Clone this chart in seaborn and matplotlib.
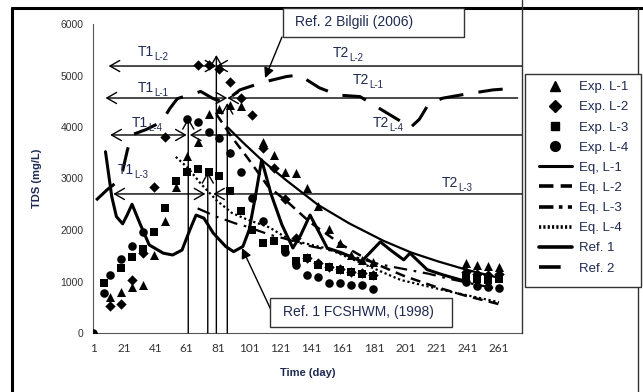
import numpy as np
import pandas as pd
import matplotlib
matplotlib.use("Agg")
import matplotlib.pyplot as plt
import seaborn as sns
from matplotlib.lines import Line2D
from matplotlib.patches import Rectangle

sns.set_style("white")
plt.rcParams['font.family'] = ['Liberation Sans', 'DejaVu Sans']

NAVY = '#1f2a52'

# experimental points (day, TDS mg/L)
day_l1 = [12, 19, 26, 33, 40, 47, 54, 61, 68, 75, 82, 89, 96, 110, 117, 124, 131, 138, 145, 152, 159, 166, 173, 180, 240, 247, 254, 261]
tds_l1 = [690, 800, 900, 930, 1515, 2175, 2830, 3440, 3715, 4250, 4350, 4430, 4400, 3700, 3450, 3120, 3110, 2820, 2470, 2020, 1750, 1515, 1420, 1385, 1360, 1320, 1300, 1280]

day_l2 = [12, 19, 26, 33, 40, 47, 68, 75, 82, 89, 96, 103, 110, 117, 124, 131, 138, 145, 152, 159, 166, 173, 180, 240, 247, 254, 261]
tds_l2 = [520, 560, 1030, 1560, 2840, 3810, 5200, 5200, 5120, 4880, 4560, 4230, 3600, 3200, 2600, 1840, 1450, 1350, 1290, 1240, 1190, 1160, 1120, 1180, 1150, 1130, 1150]

day_l3 = [8, 19, 26, 33, 40, 47, 54, 61, 68, 75, 82, 89, 96, 103, 110, 117, 124, 131, 138, 145, 152, 159, 166, 173, 180, 240, 247, 254, 261]
tds_l3 = [980, 1260, 1480, 1640, 1970, 2420, 2960, 3130, 3180, 3130, 3040, 2760, 2360, 2000, 1740, 1790, 1640, 1400, 1450, 1330, 1290, 1220, 1180, 1150, 1100, 1090, 1040, 1020, 1050]

day_l4 = [1, 8, 12, 19, 26, 33, 61, 68, 75, 82, 89, 96, 103, 110, 124, 131, 138, 145, 152, 159, 166, 173, 180, 240, 247, 254, 261]
tds_l4 = [0, 780, 1130, 1440, 1680, 1970, 4150, 4090, 3900, 3780, 3490, 3130, 2630, 2180, 1580, 1320, 1130, 1090, 980, 980, 940, 940, 850, 1000, 920, 900, 880]

# model / reference curves
eq1_day = [87, 97, 109, 125, 145, 165, 187, 205, 222, 240, 261]
eq1_tds = [4000, 3700, 3360, 2960, 2490, 2130, 1790, 1560, 1390, 1230, 1070]

eq2_day = [80, 90, 100, 113, 125, 140, 160, 180, 200, 220, 240, 261]
eq2_tds = [4250, 3800, 3400, 2850, 2560, 2150, 1720, 1370, 1110, 900, 720, 560]

eq3_day = [68, 80, 92, 99, 115, 123, 141, 151, 168, 185, 204, 216, 228, 245, 261]
eq3_tds = [2420, 2260, 2130, 2070, 1900, 1840, 1680, 1620, 1480, 1330, 1220, 1150, 1060, 950, 850]

eq4_day = [54, 62, 70, 80, 90, 100, 114, 127, 151, 175, 198, 230, 261]
eq4_tds = [3420, 3200, 2900, 2580, 2330, 2200, 2050, 1810, 1640, 1330, 1030, 800, 600]

ref1_day = [9, 13, 16, 20, 23, 26, 31, 37, 46, 52, 58, 63, 67, 72, 78, 86, 91, 97, 101, 105, 109, 115, 122, 129, 134, 140, 145, 151, 160, 173, 185, 192, 200, 204, 215, 225, 240]
ref1_tds = [3520, 2650, 2260, 2120, 2300, 2500, 2130, 1710, 1550, 1515, 1610, 2000, 2290, 2230, 1940, 1680, 1580, 1680, 2000, 2650, 3360, 2700, 2100, 1650, 1900, 2290, 2000, 1650, 1560, 1390, 1770, 1600, 1420, 1550, 1230, 1130, 1000]

ref2_day = [3, 10, 15, 20, 23, 26, 35, 45, 50, 55, 62, 70, 78, 85, 95, 110, 125, 133, 146, 158, 172, 185, 197, 204, 210, 216, 225, 240, 257, 270]
ref2_tds = [2580, 2780, 2900, 3150, 3550, 3850, 3950, 4100, 4350, 4550, 4620, 4690, 4550, 4480, 4720, 4870, 4980, 5010, 4760, 4620, 4590, 4350, 4130, 3980, 4150, 4450, 4560, 4640, 4720, 4750]

W, H = 643, 392
fig = plt.figure(figsize=(W / 100, H / 100), dpi=100)


def fx(px):
    return px / W


def fy(py):
    return 1 - py / H


ax = fig.add_axes([fx(93), fy(333), fx(522) - fx(93), fy(24) - fy(333)])
ax.set_facecolor('white')

# experimental markers
exp_sets = [(day_l1, tds_l1, '^', 42), (day_l2, tds_l2, 'D', 28),
            (day_l3, tds_l3, 's', 30), (day_l4, tds_l4, 'o', 38)]
for d, t, m, s in exp_sets:
    sns.scatterplot(x=d, y=t, marker=m, s=s, color='black', edgecolor='black', linewidth=0, ax=ax, zorder=4)

# lines
line_sets = [
    (eq1_day, eq1_tds, '-', 1.6),
    (eq2_day, eq2_tds, (0, (4, 2.5)), 1.8),
    (eq3_day, eq3_tds, (0, (6, 3, 1.2, 3)), 1.6),
    (eq4_day, eq4_tds, (0, (1, 1.2)), 1.6),
    (ref1_day, ref1_tds, '-', 2.2),
    (ref2_day, ref2_tds, (0, (8, 5)), 2.2),
]
for d, t, ls, lw in line_sets:
    df = pd.DataFrame({'day': d, 'tds': t})
    sns.lineplot(data=df, x='day', y='tds', color='black', linestyle=ls, lw=lw,
                 estimator=None, errorbar=None, ax=ax, zorder=3)

x_max = 1 + (522 - 93) / 1.5615
ax.set_xlim(1, x_max)
ax.set_ylim(0, 6000)
ax.set_xticks(range(1, 262, 20))
ax.set_yticks(range(0, 6001, 1000))
ax.tick_params(axis='x', labelsize=8.5, length=3, width=0.8, colors='#555555', labelcolor='#333333', pad=4)
ax.tick_params(axis='y', labelsize=7.5, length=4, width=0.8, colors='#555555', labelcolor='#333333', pad=3)
for lab in ax.get_xticklabels():
    lab.set_family(['Lato', 'DejaVu Sans'])
ax.spines['top'].set_visible(False)
ax.spines['right'].set_visible(False)
ax.spines['left'].set_color('#555555')
ax.spines['bottom'].set_color('#555555')
ax.spines['left'].set_linewidth(0.8)
ax.spines['bottom'].set_linewidth(0.8)
ax.set_xlabel('Time (day)', fontsize=8, fontweight='bold', color=NAVY, labelpad=10)
ax.set_ylabel('TDS (mg/L)', fontsize=8, fontweight='bold', color=NAVY, labelpad=13)

# horizontal T arrows
arr = dict(color='black', lw=1.0, shrinkA=0, shrinkB=0, mutation_scale=10)
dbl = 'head_length=0.7,head_width=0.4'
t_lines = [
    (5184, 11, 80, 80, x_max),
    (4563, 9, 87, 87, 273),
    (3845, 12, 61, 63, x_max),
    (2700, 14, 73, 78, x_max),
]
for y, a0, a1, b0, b1 in t_lines:
    ax.annotate('', xy=(a0, y), xytext=(a1, y), arrowprops=dict(arrowstyle='<->,' + dbl, **arr))
    ax.annotate('', xy=(b0, y), xytext=(b1, y), arrowprops=dict(arrowstyle='->,' + dbl, **arr))

# vertical markers for T1 times
for xv, top in [(62, 4175), (74.5, 3126), (80, 5398), (87, 4466)]:
    ax.annotate('', xy=(xv, top), xytext=(xv, 0), arrowprops=dict(arrowstyle='->,' + dbl, **arr))

tlabels = [
    ('T1', 'L-2', 29.8, 5456), ('T1', 'L-1', 29.8, 4757),
    ('T1', 'L-4', 26, 4078), ('T1', 'L-3', 17, 3165),
    ('T2', 'L-2', 154.7, 5437), ('T2', 'L-1', 167.5, 4913),
    ('T2', 'L-4', 180.3, 4078), ('T2', 'L-3', 224.5, 2913),
]
for main, sub, x, y in tlabels:
    t = ax.text(x, y, main, fontsize=10, color=NAVY, ha='left', va='center', zorder=5)
    ax.annotate(sub, xy=(1.0, 0.12), xycoords=t, fontsize=7, color=NAVY,
                ha='left', va='center', zorder=5)

# reference call-out boxes
fig.add_artist(Rectangle((fx(283), fy(37)), fx(464) - fx(283), fy(8) - fy(37),
                         transform=fig.transFigure, fill=True, facecolor='white', edgecolor='#333333', lw=1, zorder=6))
fig.text(fx(295), fy(22), 'Ref. 2 Bilgili (2006)', fontsize=10, color=NAVY, va='center', ha='left', zorder=7)
fig.add_artist(Rectangle((fx(270), fy(327)), fx(452) - fx(270), fy(298) - fy(327),
                         transform=fig.transFigure, fill=True, facecolor='white', edgecolor='#333333', lw=1, zorder=6))
fig.text(fx(283), fy(312), 'Ref. 1 FCSHWM, (1998)', fontsize=10, color=NAVY, va='center', ha='left', zorder=7)

head = dict(arrowstyle='-|>,head_length=0.6,head_width=0.3', color='black', lw=1.0, shrinkA=0, shrinkB=0, mutation_scale=10)
ax.annotate('', xy=(111.2, 4951), xytext=(282, H - 37), textcoords='figure pixels', arrowprops=head)
ax.annotate('', xy=(96.4, 1650), xytext=(272, H - 312), textcoords='figure pixels', arrowprops=head)

# legend (frame drawn separately to match the box size)
handles = [
    Line2D([], [], marker='^', ls='none', color='k', ms=7),
    Line2D([], [], marker='D', ls='none', color='k', ms=6),
    Line2D([], [], marker='s', ls='none', color='k', ms=6),
    Line2D([], [], marker='o', ls='none', color='k', ms=7),
    Line2D([], [], color='k', lw=2.2, ls='-'),
    Line2D([], [], color='k', lw=2.6, ls=(0, (4, 2))),
    Line2D([], [], color='k', lw=2.6, ls=(0, (4, 1.5, 1, 1.5))),
    Line2D([], [], color='k', lw=2.6, ls=(0, (0.6, 0.6))),
    Line2D([], [], color='k', lw=2.6, ls='-'),
    Line2D([], [], color='k', lw=2.6, ls=(0, (6, 4))),
]
labels = ['Exp. L-1', 'Exp. L-2', 'Exp. L-3', 'Exp. L-4', 'Eq, L-1',
          'Eq. L-2', 'Eq. L-3', 'Eq. L-4', 'Ref. 1', 'Ref. 2']
fig.add_artist(Rectangle((fx(525), fy(287)), fx(641) - fx(525), fy(74) - fy(287),
                         transform=fig.transFigure, fill=True, facecolor='white', edgecolor='#333333', lw=1, zorder=6))
leg = fig.legend(handles, labels, loc='upper left', bbox_to_anchor=(fx(539), fy(81)),
                 bbox_transform=fig.transFigure, frameon=False,
                 fontsize=9.5, labelcolor=NAVY, handlelength=2.5,
                 handletextpad=0.55, labelspacing=0.6, borderpad=0, borderaxespad=0)
leg.set_zorder(7)

# outer frame and plot-area right border
fig.add_artist(Line2D([fx(12), fx(12)], [fy(8), 0], transform=fig.transFigure, color='black', lw=2.2))
fig.add_artist(Line2D([fx(12), 1], [fy(8), fy(8)], transform=fig.transFigure, color='black', lw=2.2))
fig.add_artist(Line2D([fx(638), fx(638)], [fy(8), 0], transform=fig.transFigure, color='#333333', lw=1.0))
fig.add_artist(Line2D([fx(522), fx(522)], [1, fy(333)], transform=fig.transFigure, color='#333333', lw=1.0))

fig.savefig('out.png', dpi=100, facecolor='white')
